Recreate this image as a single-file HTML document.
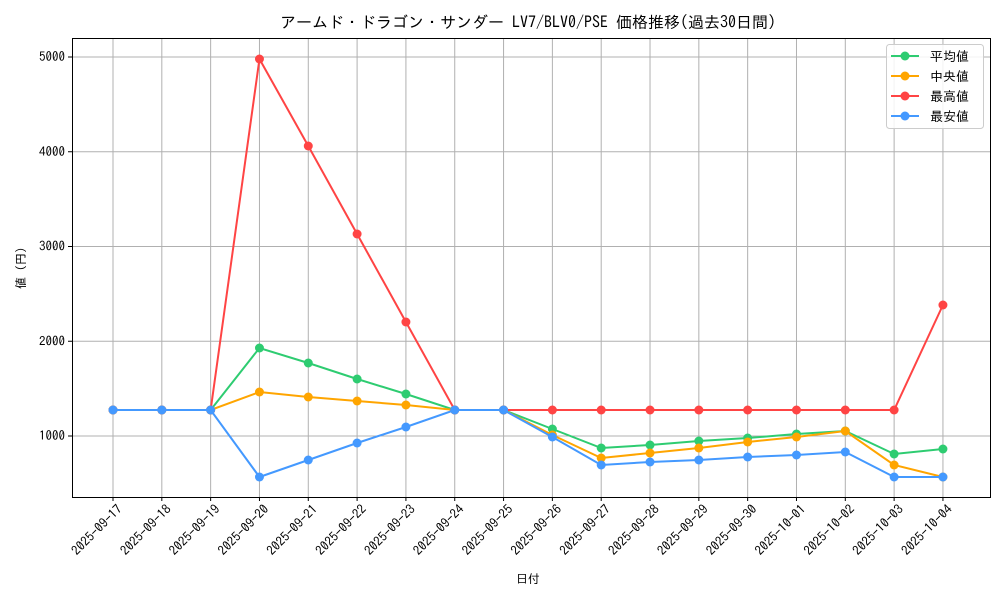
<!DOCTYPE html>
<html><head><meta charset="utf-8"><style>
html,body{margin:0;padding:0;background:#fff;}
svg{display:block;font-family:"IPAGothic","Noto Sans CJK JP",sans-serif;}
</style></head><body>
<svg width="1000" height="600" viewBox="0 0 1000 600" xmlns="http://www.w3.org/2000/svg">
<rect width="1000" height="600" fill="#fff"/>
<text x="528" y="28" font-size="16" text-anchor="middle" fill="#000">アームド・ドラゴン・サンダー LV7/BLV0/PSE 価格推移(過去30日間)</text>
<g id="grid" stroke="#b0b0b0" stroke-width="1"></g>
<rect x="72.5" y="38.5" width="918" height="459" fill="none" stroke="#000" stroke-width="1"/>
<g id="ticks" font-size="13" fill="#000"></g>
<text x="528" y="583" font-size="12" text-anchor="middle">日付</text>
<text transform="translate(25,268) rotate(-90)" font-size="12" text-anchor="middle">値 (円)</text>
<g id="series"></g>
<g>
<rect x="886.5" y="44.5" width="97" height="84" fill="#fff" fill-opacity="0.85" stroke="#ccc" rx="3"/>
<line x1="891" y1="56" x2="919" y2="56" stroke="#2ecc71" stroke-width="2"/><circle cx="905" cy="56" r="4.5" fill="#2ecc71"/><text x="930" y="61" font-size="13">平均値</text>
<line x1="891" y1="76" x2="919" y2="76" stroke="#ffa500" stroke-width="2"/><circle cx="905" cy="76" r="4.5" fill="#ffa500"/><text x="930" y="81" font-size="13"> 中央値</text>
<line x1="891" y1="96" x2="919" y2="96" stroke="#ff4444" stroke-width="2"/><circle cx="905" cy="96" r="4.5" fill="#ff4444"/><text x="930" y="101" font-size="13">最高値</text>
<line x1="891" y1="116" x2="919" y2="116" stroke="#4499ff" stroke-width="2"/><circle cx="905" cy="116" r="4.5" fill="#4499ff"/><text x="930" y="121" font-size="13">最安値</text>
</g>
</svg>
<script>
const NS="http://www.w3.org/2000/svg";
function el(t,a,p,txt){const e=document.createElementNS(NS,t);for(const k in a)e.setAttribute(k,a[k]);if(txt)e.textContent=txt;p.appendChild(e);return e;}
const grid=document.getElementById('grid'),ticks=document.getElementById('ticks'),ser=document.getElementById('series');
const X=i=>113+i*48.82;
const dates=["2025-09-17","2025-09-18","2025-09-19","2025-09-20","2025-09-21","2025-09-22","2025-09-23","2025-09-24","2025-09-25","2025-09-26","2025-09-27","2025-09-28","2025-09-29","2025-09-30","2025-10-01","2025-10-02","2025-10-03","2025-10-04"];
dates.forEach((d,i)=>{const x=X(i);el('line',{x1:x,y1:38,x2:x,y2:497},grid);el('line',{x1:x,y1:497,x2:x,y2:501,stroke:'#000'},ticks);
el('text',{x:x+10,y:510,'text-anchor':'end',transform:`rotate(-45 ${x+10} 510)`},ticks,d);});
[1000,2000,3000,4000,5000].forEach(v=>{const y=436-(v-1000)*0.09475;el('line',{x1:72,y1:y,x2:990,y2:y},grid);el('line',{x1:68,y1:y,x2:72,y2:y,stroke:'#000'},ticks);el('text',{x:65,y:y+4,'text-anchor':'end'},ticks,String(v));});
const S=[
["#2ecc71",[410,410,410,348,363,379,394,410,410,429,448,445,441,438,434,431,454,449]],
["#ffa500",[410,410,410,392,397,401,405,410,410,435,458,453,448,442,437,431,465,477]],
["#ff4444",[410,410,410,59,146,234,322,410,410,410,410,410,410,410,410,410,410,305]],
["#4499ff",[410,410,410,477,460,443,427,410,410,437,465,462,460,457,455,452,477,477]]];
S.forEach(([c,ys])=>{el('polyline',{points:ys.map((y,i)=>X(i)+','+y).join(' '),fill:'none',stroke:c,'stroke-width':2},ser);ys.forEach((y,i)=>el('circle',{cx:X(i),cy:y,r:4.5,fill:c},ser));});
</script>
</body></html>
